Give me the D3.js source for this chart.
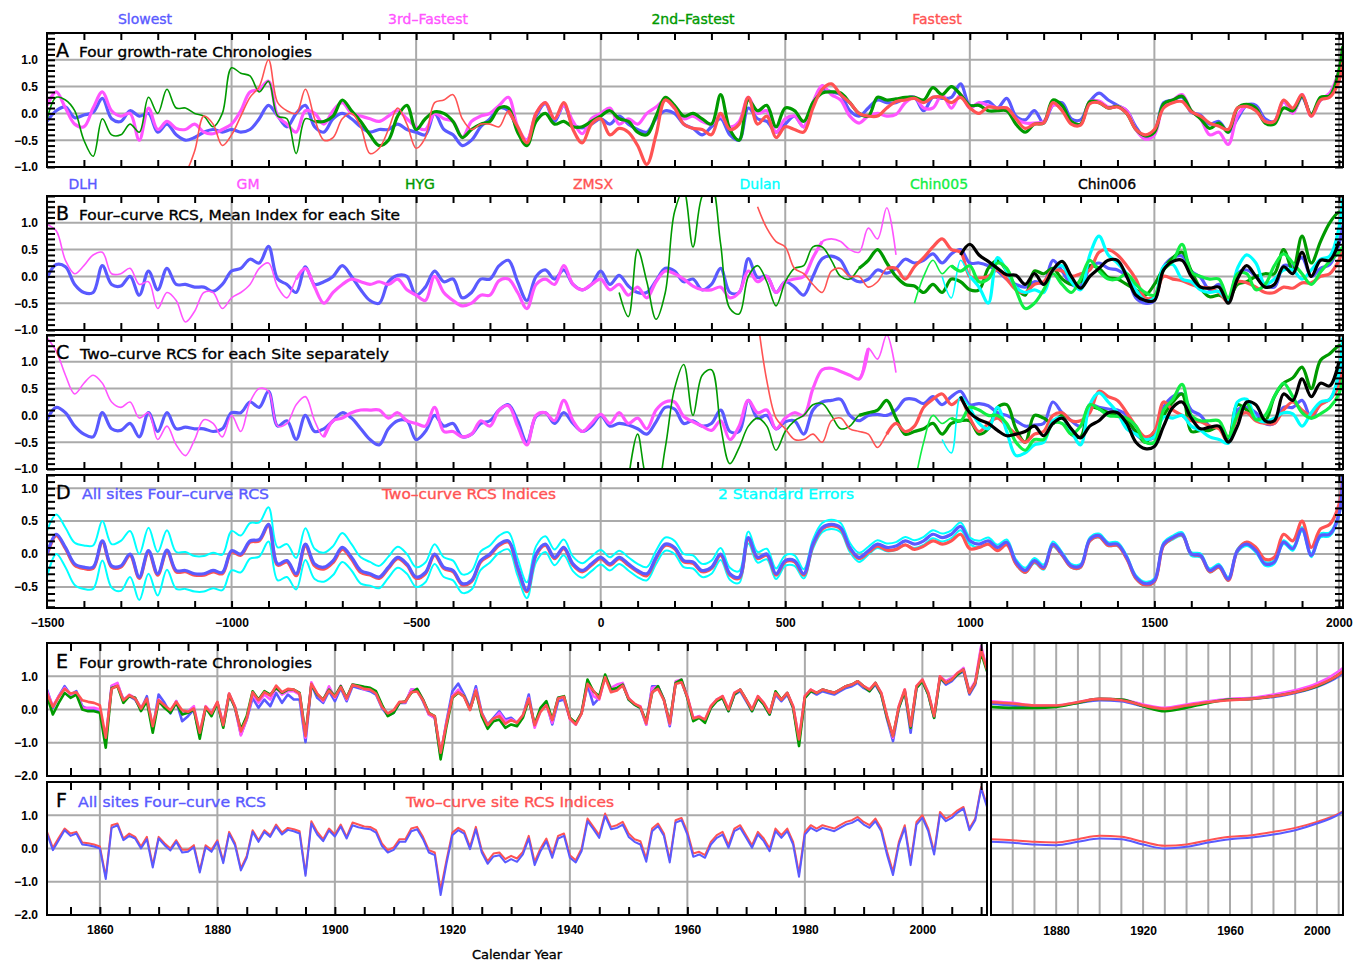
<!DOCTYPE html>
<html>
<head>
<meta charset="utf-8">
<script src="https://cdn.jsdelivr.net/npm/d3@7"></script>
<style>
  body { margin: 0; background: #fff; }
  text { font-family: "DejaVu Sans", sans-serif; }
  .lbl { stroke-width: 0.35px; }
  .tk text { font-family: "Liberation Sans", sans-serif; font-weight: bold; font-size: 12px; fill: #000; }
  .tk line { stroke: #000; stroke-width: 2; }
  .tk path { display: none; }
</style>
</head>
<body>
<script>
// ---- time grid for panels A-D (25 yr steps, last point 2010) ----
var gridYears = d3.range(-1500, 2001, 25).concat([2010]);

// ---- Panel A: four growth-rate chronologies ----
var aSlow = [-0.15,0.05,0.12,-0.08,-0.03,0.02,0.28,-0.1,-0.15,0.05,
  -0.05,0.0,-0.35,-0.2,-0.4,-0.5,-0.45,-0.35,-0.3,-0.35,
  -0.3,-0.35,-0.3,-0.1,0.15,-0.05,-0.25,0.0,0.15,-0.25,
  -0.35,-0.1,0.0,-0.1,-0.25,-0.35,-0.3,-0.3,-0.2,-0.3,
  -0.35,-0.4,0.0,-0.3,-0.4,-0.6,-0.5,-0.25,-0.1,0.1,
  0.05,-0.3,-0.5,-0.05,0.18,-0.15,0.15,-0.2,-0.27,-0.2,
  -0.1,-0.2,-0.05,-0.2,-0.3,-0.35,-0.1,0.05,0.0,-0.2,
  -0.28,-0.4,-0.25,-0.1,-0.4,-0.5,0.1,-0.1,-0.15,-0.35,
  -0.2,-0.05,-0.25,0.2,0.45,0.4,0.35,0.05,-0.05,0.1,
  0.25,0.2,0.2,0.28,0.3,0.05,0.3,0.28,0.3,0.55,
  0.15,0.17,0.22,0.1,0.28,-0.05,-0.12,0.05,-0.18,0.15,
  0.2,-0.1,-0.12,0.22,0.38,0.25,0.15,0.05,-0.25,-0.45,
  -0.35,0.2,0.25,0.3,0.02,-0.03,-0.2,-0.15,-0.35,-0.1,
  0.15,0.15,-0.1,-0.15,0.22,0.03,0.3,-0.02,0.25,0.35,
  0.7,1.0];
var aThird = [0.15,0.4,0.1,-0.2,-0.25,0.1,0.4,0.05,-0.05,0.0,
  -0.5,0.1,-0.3,-0.15,-0.28,-0.3,-0.2,-0.35,-0.38,-0.3,
  -0.2,0.05,0.4,0.45,0.6,-0.05,-0.2,-0.35,0.05,0.0,
  -0.2,0.05,0.2,0.0,-0.05,-0.1,-0.15,-0.05,0.05,-0.1,
  -0.25,-0.3,0.0,-0.1,-0.15,-0.45,-0.15,-0.05,0.0,0.15,
  0.3,-0.25,-0.5,0.0,0.2,-0.1,0.15,-0.15,-0.38,-0.1,
  0.0,0.1,-0.2,-0.1,-0.2,0.0,0.12,0.25,0.1,-0.1,
  -0.05,-0.15,-0.2,-0.05,-0.25,-0.15,0.3,0.0,0.05,-0.35,
  -0.1,-0.05,-0.25,0.2,0.52,0.35,0.25,-0.05,-0.18,-0.05,
  0.0,-0.05,-0.02,0.2,0.3,0.1,0.1,0.35,0.1,0.35,
  0.1,0.2,0.15,0.1,0.1,-0.1,-0.18,-0.18,-0.15,0.15,
  0.1,-0.15,-0.2,0.22,0.23,0.12,0.13,0.05,-0.3,-0.48,
  -0.4,0.15,0.25,0.35,0.05,-0.1,-0.4,-0.35,-0.58,-0.05,
  0.15,0.1,-0.15,-0.15,0.22,0.0,0.35,-0.05,0.25,0.38,
  0.8,1.2];
var aSecond = [-0.12,0.3,0.25,0.05,-0.5,-0.8,-0.1,-0.4,-0.4,-0.2,
  -0.35,0.3,0.0,0.45,0.1,0.1,0.0,-0.05,-0.25,0.0,
  0.85,0.75,0.7,0.4,0.6,-0.05,-0.1,-0.75,-0.1,-0.15,
  -0.15,-0.05,0.25,0.05,-0.15,-0.4,-0.6,-0.5,-0.05,0.15,
  -0.3,-0.1,0.03,0.0,-0.15,-0.45,-0.3,-0.2,-0.15,0.1,
  0.1,-0.35,-0.6,-0.15,0.0,-0.2,-0.15,-0.25,-0.25,-0.15,
  -0.05,0.05,-0.1,-0.15,-0.35,-0.4,-0.05,0.3,0.15,-0.05,
  0.0,-0.1,-0.2,0.35,-0.3,-0.5,0.25,0.05,0.15,-0.25,
  0.1,0.05,-0.15,0.2,0.38,0.4,0.38,0.2,0.0,-0.05,
  0.3,0.25,0.27,0.3,0.3,0.25,0.48,0.35,0.5,0.35,
  0.15,0.15,0.05,0.05,0.05,-0.2,-0.35,-0.2,-0.18,0.25,
  0.15,-0.15,-0.2,0.22,0.2,0.1,0.13,0.0,-0.3,-0.42,
  -0.35,0.18,0.25,0.32,0.05,-0.1,-0.28,-0.18,-0.35,0.1,
  0.17,0.1,-0.18,-0.2,0.1,0.05,0.32,-0.02,0.3,0.33,
  0.8,1.25];
var aFast = [-1.2,-1.1,-0.7,-0.05,-0.2,-0.6,   // from -1150
  -0.4,-0.05,0.3,0.5,1.0,0.2,0.05,0.0,0.45,-0.1,
  -0.5,-0.45,-0.1,0.0,-0.25,-0.75,-0.65,-0.3,0.1,-0.2,
  -0.65,-0.45,0.2,0.25,0.35,-0.1,-0.3,-0.2,-0.2,-0.25,
  0.05,-0.25,-0.55,0.0,0.2,-0.1,0.2,-0.3,-0.55,-0.2,
  -0.1,-0.4,-0.28,-0.35,-0.6,-0.95,-0.4,0.25,0.1,-0.2,
  -0.28,-0.3,-0.4,0.0,-0.3,-0.2,0.3,-0.2,-0.05,-0.45,
  -0.25,-0.3,-0.35,0.1,0.45,0.55,0.35,0.2,0.0,-0.05,
  -0.05,0.1,0.22,0.25,0.28,0.2,0.3,0.3,0.2,0.3,
  0.1,0.0,0.12,0.1,0.1,-0.1,-0.28,-0.2,-0.18,0.2,
  0.05,-0.2,-0.22,0.18,0.2,0.1,0.12,0.0,-0.3,-0.4,
  -0.3,0.1,0.2,0.22,0.03,-0.05,-0.18,-0.24,-0.3,0.1,
  0.13,0.05,-0.15,-0.15,0.25,0.1,0.35,-0.05,0.25,0.3,
  0.6,0.95];

// ---- Panel B: four-curve RCS, mean index for each site ----
var bDLH = [-0.03,0.22,0.18,-0.15,-0.3,-0.3,0.2,-0.15,-0.18,0.0,
  -0.35,0.1,-0.25,0.15,-0.15,-0.15,-0.2,-0.2,-0.28,-0.15,
  0.1,0.15,0.32,0.25,0.56,-0.05,-0.15,-0.3,0.18,-0.15,
  -0.1,0.0,0.2,0.0,-0.25,-0.45,-0.5,-0.1,0.02,0.0,
  -0.35,-0.2,0.1,-0.1,-0.05,-0.4,-0.3,-0.05,-0.05,0.2,
  0.3,-0.1,-0.45,0.0,0.12,-0.05,0.12,-0.15,-0.25,-0.15,
  0.1,-0.15,0.02,-0.18,-0.3,-0.3,-0.08,0.15,0.1,-0.1,
  -0.05,-0.25,-0.15,0.15,-0.3,-0.3,0.33,-0.02,0.0,-0.3,
  -0.1,-0.2,-0.35,0.0,0.33,0.38,0.3,0.0,-0.1,-0.05,
  0.12,0.06,0.15,0.32,0.25,0.3,0.42,0.25,0.42,0.5,
  0.25,0.25,0.2,0.1,-0.05,-0.15,-0.2,-0.1,-0.13,0.3,
  0.1,-0.15,-0.18,0.15,0.25,0.15,0.12,0.0,-0.4,-0.5,
  -0.45,0.18,0.35,0.38,0.1,-0.02,-0.25,-0.15,-0.48,0.05,
  0.12,0.0,-0.15,-0.2,0.2,0.2,0.35,0.0,0.15,0.22,
  0.6,0.95];
var bGM = [0.97,0.85,0.3,0.05,0.2,0.4,0.45,0.05,0.05,0.15,
  -0.15,-0.1,-0.6,-0.3,-0.45,-0.85,-0.65,-0.3,-0.3,-0.6,
  -0.4,-0.3,-0.15,0.15,0.25,-0.2,-0.4,-0.05,0.15,-0.2,
  -0.5,-0.3,-0.15,-0.05,-0.1,-0.15,-0.1,-0.15,-0.05,-0.25,
  -0.35,-0.45,0.0,-0.3,-0.45,-0.55,-0.5,-0.35,-0.35,-0.08,
  -0.05,-0.3,-0.6,-0.15,-0.05,-0.15,0.2,-0.15,-0.25,-0.15,
  -0.05,-0.25,-0.15,-0.35,-0.2,-0.4,-0.1,0.1,0.05,-0.05,
  -0.18,-0.25,-0.25,-0.2,-0.4,-0.3,0.1,-0.1,0.0,-0.3,
  -0.1,-0.05,0.0,0.35,0.65,0.7,0.65,0.5,0.45,0.9,
  0.7,1.28,0.4];
var bHYG = [-0.3,-0.75,0.5,-0.1,-0.8,-0.3,1.2,1.6,   // from 50
  0.55,1.5,1.7,0.6,-0.6,-0.7,0.0,0.2,-0.1,-0.55,
  -0.1,0.15,0.2,0.55,0.55,0.3,0.0,-0.05,0.15,0.3,
  0.5,0.25,0.0,-0.15,-0.18,-0.3,-0.15,-0.3,-0.05,-0.1,
  -0.25,-0.25,0.15,0.3,0.1,-0.2,-0.35,0.1,0.05,0.15,
  -0.05,-0.15,-0.1,0.2,0.15,-0.02,-0.05,-0.15,-0.25,-0.35,
  -0.15,0.15,0.35,0.45,0.1,-0.22,-0.38,-0.35,-0.42,-0.15,
  -0.1,0.0,0.05,0.05,0.5,0.12,0.75,0.25,0.65,1.0,
  1.2,1.2];
var bZMSX = [1.3,0.9,0.65,   // from 425
  0.55,0.15,0.05,-0.15,-0.3,0.1,0.15,0.0,0.0,-0.2,
  -0.1,0.15,0.15,-0.05,0.18,0.35,0.55,0.7,0.5,0.45,
  0.0,-0.03,0.0,0.12,-0.05,-0.25,-0.3,-0.15,-0.1,0.12,
  0.1,0.0,0.05,0.12,0.45,0.5,0.4,0.2,-0.05,-0.4,
  -0.38,0.0,-0.05,-0.08,-0.15,-0.2,-0.22,-0.3,-0.48,-0.1,
  -0.12,-0.2,-0.3,-0.3,-0.2,-0.22,-0.12,-0.12,0.0,0.05,
  0.3,0.5];
var bDulan = [0.0,-0.4,0.3,   // from 925
  0.0,-0.2,-0.5,0.35,0.1,-0.2,-0.3,-0.25,-0.3,0.12,
  0.2,-0.1,-0.25,0.4,0.75,0.4,0.25,0.05,-0.25,-0.45,
  -0.4,0.18,0.22,-0.05,-0.1,-0.25,-0.3,-0.28,-0.45,0.15,
  0.4,0.25,-0.15,-0.05,0.12,0.12,-0.05,0.12,0.32,0.38,
  0.9,1.45];
var bChin005 = [-0.5,0.0,0.3,0.05,0.2,0.1,   // from 850
  0.2,-0.1,-0.05,0.25,0.15,-0.25,-0.6,-0.5,-0.25,0.05,
  -0.15,-0.3,-0.05,0.3,0.1,-0.05,-0.05,0.05,-0.15,-0.3,
  -0.35,0.12,0.28,0.6,0.08,0.0,-0.05,-0.05,-0.4,0.05,
  0.05,-0.25,-0.15,0.2,0.42,0.25,0.05,-0.15,0.08,0.28,
  0.45,0.55];
var bChin006 = [0.4,   // from 975
  0.6,0.4,0.28,0.15,0.03,0.02,-0.15,0.05,-0.15,0.12,
  0.28,0.0,-0.22,0.0,0.15,0.3,0.3,0.0,-0.35,-0.45,
  -0.45,0.12,0.28,0.3,0.0,-0.2,-0.22,-0.2,-0.5,-0.05,
  0.2,0.0,-0.2,-0.15,0.18,0.05,0.45,0.0,0.3,0.3,
  0.65];

// ---- Panel C: two-curve RCS for each site separately ----
var cDLH = [-0.08,0.15,0.05,-0.2,-0.35,-0.4,0.05,-0.25,-0.28,-0.15,
  -0.4,0.05,-0.3,0.05,-0.25,-0.22,-0.25,-0.25,-0.3,-0.25,
  0.05,0.05,0.25,0.15,0.45,-0.2,-0.1,-0.45,0.0,-0.3,
  -0.25,-0.1,0.05,-0.05,-0.25,-0.45,-0.55,-0.25,-0.1,-0.1,
  -0.45,-0.3,0.0,-0.2,-0.15,-0.4,-0.35,-0.15,-0.1,0.1,
  0.2,-0.1,-0.5,-0.02,0.05,-0.15,0.05,-0.15,-0.3,-0.2,
  0.0,-0.2,-0.15,-0.18,-0.25,-0.35,-0.12,0.15,0.12,-0.15,
  -0.1,-0.2,-0.15,0.1,-0.3,-0.3,0.28,-0.05,0.0,-0.25,
  -0.12,-0.1,-0.35,0.1,0.25,0.28,0.3,0.0,-0.1,0.0,
  0.02,0.0,0.1,0.3,0.3,0.22,0.35,0.2,0.35,0.45,
  0.2,0.22,0.18,0.05,0.0,-0.1,-0.2,-0.18,-0.15,0.25,
  0.05,-0.1,-0.2,0.2,0.15,0.12,0.1,0.0,-0.35,-0.45,
  -0.4,0.15,0.35,0.4,0.1,0.0,-0.2,-0.22,-0.45,0.1,
  0.15,0.05,-0.15,-0.15,0.15,0.15,0.28,-0.05,0.22,0.3,
  0.65,1.0];
var cGM = [1.45,1.2,0.75,0.4,0.6,0.75,0.6,0.25,0.15,0.25,
  -0.05,0.05,-0.45,-0.2,-0.55,-0.75,-0.45,-0.08,-0.15,-0.4,
  0.0,-0.3,0.25,0.5,0.45,-0.2,-0.15,0.2,0.35,-0.1,
  -0.4,-0.1,-0.05,0.05,0.1,0.1,0.1,-0.05,0.05,-0.1,
  -0.15,-0.2,0.15,-0.3,-0.3,-0.4,-0.35,-0.1,-0.2,0.1,
  0.18,-0.2,-0.55,0.0,0.05,-0.1,0.28,-0.1,-0.3,-0.15,
  0.02,-0.15,0.05,-0.15,-0.05,-0.25,0.1,0.25,0.25,-0.02,
  -0.12,-0.2,-0.28,-0.1,-0.45,-0.2,0.28,0.05,0.1,-0.25,
  -0.05,0.05,0.0,0.5,0.85,0.88,0.82,0.75,0.68,1.25,
  1.05,1.5,0.8];
var cHYG = [-1.2,-0.35,-1.2,-1.4,-0.6,0.5,0.95,   // from 75
  0.0,0.75,0.85,-0.2,-0.9,-0.6,-0.2,-0.05,-0.2,-0.65,
  -0.3,-0.1,0.0,0.2,0.22,0.0,-0.25,-0.2,0.0,0.05,
  0.1,0.28,-0.05,-0.35,-0.3,-0.25,-0.15,-0.35,-0.15,-0.1,
  -0.1,-0.35,-0.25,0.15,0.2,-0.25,-0.5,0.0,-0.05,-0.15,
  0.0,-0.35,-0.4,0.15,0.12,0.05,0.0,-0.1,-0.3,-0.5,
  -0.3,0.0,0.25,0.4,-0.3,-0.28,-0.28,-0.22,-0.45,0.2,
  0.1,-0.05,-0.1,0.35,0.6,0.7,0.9,0.5,1.03,1.15,
  1.3,1.3];
var cZMSX = [1.8,0.65,-0.05,   // from 425
  -0.25,-0.45,-0.45,-0.35,-0.5,-0.1,-0.05,-0.25,-0.3,-0.35,
  -0.6,-0.35,-0.15,-0.3,-0.2,0.15,0.3,0.4,0.2,0.3,
  -0.05,-0.3,-0.15,-0.05,-0.2,-0.35,-0.5,-0.35,-0.3,0.0,
  0.05,-0.1,-0.1,0.05,0.45,0.35,0.28,0.05,-0.2,-0.4,
  -0.3,0.25,0.1,0.0,-0.1,-0.12,-0.2,-0.25,-0.5,-0.05,
  0.05,-0.1,-0.15,-0.15,0.1,0.25,0.1,0.0,0.2,0.3,
  0.55,0.85];
var cDulan = [-0.45,-0.7,0.35,   // from 925
  0.15,-0.15,-0.25,0.15,-0.3,-0.75,-0.7,-0.55,-0.5,-0.1,
  -0.05,-0.3,-0.55,0.2,0.42,0.25,0.05,-0.25,-0.35,-0.45,
  -0.4,-0.03,-0.05,0.0,-0.2,-0.28,-0.4,-0.45,-0.52,0.25,
  0.3,-0.05,-0.12,-0.05,0.05,0.03,-0.2,0.05,0.25,0.3,
  0.8,1.45];
var cChin005 = [-1.3,-0.5,0.0,-0.15,-0.05,-0.1,   // from 850
  0.15,0.1,0.0,0.0,-0.15,-0.5,-0.65,-0.45,-0.45,-0.15,
  -0.15,-0.35,-0.2,0.2,0.12,0.0,-0.02,-0.05,-0.2,-0.5,
  -0.5,0.1,0.3,0.58,0.0,-0.1,-0.1,-0.1,-0.4,0.0,
  0.22,-0.08,0.0,0.35,0.6,0.35,0.05,-0.05,0.03,0.15,
  0.4,0.7];
var cChin006 = [0.35,   // from 975
  0.05,-0.08,-0.15,-0.28,-0.38,-0.35,-0.3,-0.2,-0.38,-0.15,
  -0.05,-0.25,-0.42,-0.2,-0.1,0.05,0.05,-0.15,-0.5,-0.62,
  -0.58,-0.2,0.15,0.25,-0.05,-0.25,-0.22,-0.2,-0.5,-0.2,
  0.25,0.2,-0.1,-0.1,0.4,0.28,0.68,0.35,0.6,0.55,
  1.0];

// ---- Panel D: all sites ----
var dFour = [0.0,0.3,0.1,-0.15,-0.2,-0.2,0.2,-0.18,-0.18,0.0,
  -0.35,0.05,-0.3,0.06,-0.25,-0.25,-0.3,-0.3,-0.25,-0.28,
  0.05,0.0,0.2,0.22,0.45,-0.15,-0.1,-0.3,0.15,-0.15,
  -0.2,-0.1,0.1,-0.05,-0.25,-0.3,-0.35,-0.2,-0.05,-0.15,
  -0.35,-0.28,0.0,-0.2,-0.25,-0.45,-0.4,-0.1,0.0,0.15,
  0.2,-0.2,-0.55,0.0,0.15,-0.05,0.1,-0.15,-0.25,-0.15,
  -0.05,-0.15,-0.05,-0.15,-0.25,-0.3,-0.05,0.15,0.1,-0.1,
  -0.12,-0.25,-0.2,0.0,-0.3,-0.35,0.25,-0.05,0.0,-0.3,
  -0.1,-0.1,-0.3,0.15,0.4,0.45,0.4,0.1,-0.05,0.05,
  0.15,0.1,0.12,0.2,0.15,0.2,0.3,0.25,0.3,0.42,
  0.2,0.15,0.2,0.1,0.18,-0.12,-0.25,-0.1,-0.2,0.15,
  0.0,-0.18,-0.18,0.22,0.28,0.15,0.15,-0.05,-0.35,-0.45,
  -0.4,0.15,0.25,0.3,0.0,-0.02,-0.25,-0.18,-0.38,0.05,
  0.15,0.05,-0.15,-0.12,0.18,0.08,0.38,-0.02,0.28,0.3,
  0.6,1.2];
var dTwo = [-0.02,0.28,0.08,-0.17,-0.22,-0.22,0.18,-0.2,-0.2,-0.02,
  -0.37,0.03,-0.32,0.04,-0.27,-0.27,-0.32,-0.32,-0.27,-0.3,
  0.03,-0.02,0.18,0.2,0.43,-0.17,-0.12,-0.33,0.12,-0.18,
  -0.23,-0.13,0.07,-0.08,-0.28,-0.32,-0.37,-0.22,-0.07,-0.17,
  -0.37,-0.3,-0.02,-0.22,-0.27,-0.47,-0.42,-0.12,-0.02,0.13,
  0.18,-0.22,-0.57,-0.02,0.13,-0.07,0.08,-0.17,-0.27,-0.17,
  -0.07,-0.17,-0.07,-0.17,-0.27,-0.33,-0.07,0.13,0.08,-0.12,
  -0.14,-0.27,-0.22,-0.02,-0.32,-0.37,0.23,-0.07,-0.02,-0.32,
  -0.12,-0.12,-0.32,0.13,0.38,0.43,0.38,0.08,-0.07,0.02,
  0.12,0.06,0.07,0.14,0.07,0.12,0.2,0.15,0.2,0.3,
  0.08,0.1,0.15,0.05,0.14,-0.15,-0.28,-0.12,-0.22,0.13,
  -0.02,-0.2,-0.2,0.2,0.26,0.13,0.13,-0.07,-0.37,-0.47,
  -0.42,0.13,0.24,0.29,0.0,-0.03,-0.27,-0.2,-0.4,0.05,
  0.18,0.1,-0.08,-0.05,0.3,0.2,0.5,0.1,0.38,0.45,
  0.75,1.15];
// half width of the 2 standard error band
var dSE2 = [0.35,0.3,0.3,0.32,0.33,0.33,0.3,0.33,0.38,0.35,
  0.35,0.35,0.33,0.3,0.28,0.28,0.27,0.27,0.27,0.27,
  0.3,0.28,0.27,0.26,0.26,0.25,0.25,0.24,0.24,0.23,
  0.22,0.22,0.22,0.2,0.2,0.18,0.17,0.16,0.16,0.15,
  0.15,0.15,0.15,0.15,0.15,0.14,0.14,0.14,0.13,0.13,
  0.13,0.13,0.12,0.12,0.12,0.12,0.12,0.11,0.11,0.11,
  0.11,0.1,0.1,0.1,0.1,0.1,0.1,0.1,0.1,0.1,
  0.1,0.1,0.1,0.09,0.09,0.09,0.09,0.08,0.08,0.08,
  0.08,0.08,0.07,0.07,0.07,0.07,0.07,0.07,0.07,0.06,
  0.06,0.06,0.06,0.06,0.06,0.06,0.06,0.06,0.06,0.06,
  0.05,0.05,0.05,0.04,0.04,0.04,0.04,0.04,0.04,0.04,
  0.03,0.03,0.03,0.03,0.03,0.03,0.03,0.03,0.03,0.03,
  0.03,0.03,0.03,0.03,0.03,0.03,0.03,0.03,0.03,0.03,
  0.03,0.03,0.03,0.03,0.03,0.03,0.03,0.03,0.03,0.03,
  0.04,0.06];

// ---- Panels E/F: annual values 1851-2011 ----
var annStart = 1851;
var eSlow = [0.6,0.05,0.4,0.7,0.45,0.55,0.1,0.0,0.0,-0.02,
  -0.95,0.7,0.75,0.3,0.4,0.3,0.0,0.4,-0.6,0.45,
  0.2,-0.12,0.25,-0.35,-0.2,0.0,-0.8,0.05,-0.15,0.2,
  -0.5,0.45,0.05,-0.75,-0.3,0.35,0.05,0.3,0.1,0.5,
  0.2,0.45,0.3,0.3,-0.98,0.75,0.35,0.2,0.55,0.25,
  0.65,0.25,0.7,0.65,0.6,0.55,0.45,0.05,-0.18,-0.1,
  0.2,0.2,0.6,0.58,0.25,-0.15,-0.25,-1.4,-0.35,0.55,
  0.78,0.45,0.05,0.7,-0.1,-0.45,-0.25,-0.05,-0.3,-0.25,
  -0.4,-0.2,0.45,-0.5,0.0,0.2,-0.45,0.25,0.3,-0.25,
  -0.45,-0.1,0.75,0.15,0.35,1.0,0.6,0.6,0.75,0.3,
  0.15,0.05,-0.45,0.7,0.7,0.3,-0.5,0.8,0.85,0.35,
  -0.3,-0.2,-0.35,0.05,0.3,0.35,-0.05,0.45,0.55,0.25,
  -0.05,0.35,0.15,-0.15,0.45,0.25,0.45,0.05,-0.95,0.35,
  0.55,0.45,0.55,0.5,0.45,0.55,0.65,0.7,0.8,0.65,
  0.55,0.75,0.45,-0.3,-0.95,0.05,0.55,-0.7,0.65,0.85,
  0.45,-0.25,0.95,0.75,0.85,1.05,1.15,0.45,0.75,1.85,1.2];
var eThird = [0.55,0.1,0.4,0.65,0.45,0.5,0.05,0.05,0.05,0.0,
  -0.9,0.72,0.8,0.25,0.45,0.35,0.05,0.3,-0.55,0.3,
  0.1,-0.05,0.25,-0.15,-0.05,0.1,-0.75,0.1,-0.1,0.22,
  -0.45,0.48,0.08,-0.78,-0.28,0.45,0.2,0.45,0.3,0.65,
  0.45,0.55,0.55,0.45,-0.85,0.82,0.45,0.25,0.7,0.35,
  0.72,0.3,0.75,0.7,0.6,0.6,0.5,0.1,-0.15,-0.05,
  0.22,0.22,0.6,0.6,0.3,-0.15,-0.25,-1.35,-0.4,0.4,
  0.6,0.4,0.0,0.6,-0.15,-0.5,-0.3,-0.1,-0.35,-0.3,
  -0.38,-0.2,0.35,-0.55,-0.05,0.15,-0.4,0.35,0.35,-0.3,
  -0.45,-0.1,0.85,0.4,0.3,1.0,0.65,0.75,0.8,0.35,
  0.15,0.1,-0.45,0.65,0.7,0.3,-0.45,0.85,0.9,0.4,
  -0.25,-0.2,-0.32,0.1,0.3,0.4,0.0,0.5,0.6,0.3,
  0.0,0.4,0.2,-0.1,0.5,0.3,0.5,0.1,-0.9,0.4,
  0.6,0.5,0.6,0.55,0.5,0.6,0.7,0.75,0.85,0.7,
  0.6,0.8,0.5,-0.25,-0.85,0.1,0.6,-0.55,0.7,0.9,
  0.5,-0.2,1.0,0.85,0.95,1.1,1.25,0.55,0.85,1.9,1.2];
var eSecond = [0.4,-0.15,0.2,0.5,0.35,0.45,0.0,-0.05,-0.05,-0.1,
  -1.15,0.65,0.7,0.2,0.4,0.35,-0.05,0.25,-0.7,0.25,
  0.05,-0.1,0.2,-0.15,-0.1,0.0,-0.88,0.05,-0.2,0.2,
  -0.55,0.45,0.05,-0.6,-0.2,0.55,0.3,0.55,0.45,0.65,
  0.5,0.6,0.6,0.5,-0.75,0.75,0.45,0.3,0.6,0.4,
  0.7,0.35,0.75,0.72,0.68,0.65,0.55,0.15,-0.2,-0.1,
  0.2,0.25,0.5,0.62,0.3,-0.1,-0.2,-1.5,-0.5,0.35,
  0.5,0.4,0.0,0.55,-0.2,-0.58,-0.35,-0.3,-0.55,-0.45,
  -0.5,-0.25,0.3,-0.45,0.05,0.25,-0.3,0.35,0.4,-0.25,
  -0.4,-0.1,0.9,0.55,0.4,1.05,0.6,0.65,0.75,0.3,
  0.15,0.05,-0.35,0.5,0.7,0.3,-0.4,0.8,0.9,0.35,
  -0.35,-0.25,-0.4,0.05,0.25,0.35,-0.05,0.45,0.6,0.3,
  -0.05,0.35,0.15,-0.15,0.55,0.3,0.5,0.05,-1.1,0.35,
  0.55,0.5,0.6,0.55,0.5,0.6,0.7,0.75,0.85,0.7,
  0.55,0.8,0.45,-0.25,-0.8,0.05,0.55,-0.55,0.65,0.85,
  0.45,-0.25,0.95,0.8,0.9,1.05,1.2,0.5,0.8,1.7,1.15];
var eFast = [0.48,0.08,0.38,0.62,0.48,0.52,0.28,0.23,0.2,0.13,
  -0.85,0.62,0.72,0.28,0.43,0.33,0.03,0.33,-0.5,0.28,
  0.13,-0.02,0.23,-0.02,-0.07,0.03,-0.7,0.08,-0.12,0.23,
  -0.47,0.48,0.08,-0.66,-0.27,0.52,0.28,0.52,0.42,0.72,
  0.52,0.62,0.6,0.48,-0.8,0.77,0.48,0.28,0.57,0.38,
  0.67,0.33,0.74,0.69,0.62,0.6,0.48,0.08,-0.12,-0.02,
  0.23,0.23,0.52,0.54,0.28,-0.12,-0.2,-1.3,-0.42,0.38,
  0.52,0.38,-0.02,0.57,-0.12,-0.47,-0.27,-0.2,-0.43,-0.32,
  -0.4,-0.17,0.33,-0.47,-0.07,0.13,-0.32,0.33,0.38,-0.27,
  -0.45,-0.12,0.77,0.57,0.33,0.97,0.52,0.57,0.72,0.33,
  0.18,0.08,-0.42,0.52,0.62,0.28,-0.42,0.77,0.82,0.38,
  -0.27,-0.22,-0.3,0.1,0.3,0.4,0.0,0.5,0.6,0.3,
  0.0,0.4,0.2,-0.1,0.5,0.3,0.5,0.1,-0.9,0.4,
  0.6,0.5,0.6,0.55,0.5,0.6,0.7,0.75,0.85,0.7,
  0.6,0.8,0.5,-0.2,-0.8,0.1,0.6,-0.5,0.7,0.9,
  0.5,-0.2,1.0,0.8,0.9,1.1,1.2,0.5,0.8,1.8,1.2];
var fFour = [0.45,-0.05,0.25,0.55,0.38,0.45,0.12,0.1,0.06,0.0,
  -0.92,0.62,0.7,0.25,0.38,0.3,0.0,0.28,-0.57,0.3,
  0.1,-0.06,0.2,-0.12,-0.1,0.04,-0.72,0.04,-0.1,0.2,
  -0.44,0.44,0.1,-0.66,-0.28,0.5,0.2,0.5,0.35,0.66,
  0.42,0.56,0.52,0.45,-0.82,0.75,0.42,0.22,0.54,0.36,
  0.66,0.3,0.7,0.64,0.6,0.58,0.48,0.08,-0.12,-0.04,
  0.2,0.2,0.52,0.58,0.28,-0.12,-0.2,-1.4,-0.45,0.4,
  0.55,0.45,-0.02,0.58,-0.12,-0.46,-0.24,-0.2,-0.42,-0.32,
  -0.4,-0.18,0.3,-0.5,-0.08,0.22,-0.28,0.3,0.38,-0.28,
  -0.42,-0.08,0.82,0.58,0.32,0.98,0.58,0.62,0.72,0.35,
  0.2,0.12,-0.4,0.52,0.68,0.38,-0.42,0.78,0.85,0.42,
  -0.25,-0.18,-0.28,0.12,0.32,0.42,0.02,0.52,0.62,0.32,
  0.02,0.42,0.22,-0.08,0.52,0.32,0.52,0.12,-0.85,0.42,
  0.62,0.52,0.62,0.57,0.52,0.62,0.72,0.77,0.87,0.72,
  0.62,0.82,0.52,-0.2,-0.8,0.12,0.62,-0.5,0.72,0.92,
  0.52,-0.18,1.02,0.82,0.92,1.08,1.2,0.55,0.85,1.8,1.25];
var fTwo = [0.5,0.02,0.32,0.6,0.45,0.5,0.18,0.16,0.12,0.06,
  -0.85,0.7,0.75,0.3,0.45,0.35,0.06,0.35,-0.5,0.35,
  0.16,0.0,0.25,-0.04,-0.04,0.1,-0.66,0.1,-0.04,0.25,
  -0.38,0.5,0.16,-0.6,-0.22,0.55,0.25,0.55,0.4,0.72,
  0.48,0.62,0.58,0.52,-0.76,0.82,0.5,0.28,0.6,0.42,
  0.72,0.35,0.78,0.72,0.66,0.65,0.55,0.15,-0.05,0.03,
  0.28,0.28,0.6,0.65,0.35,-0.05,-0.12,-1.25,-0.35,0.48,
  0.62,0.52,0.05,0.65,-0.05,-0.38,-0.15,-0.12,-0.32,-0.22,
  -0.3,-0.1,0.38,-0.4,0.0,0.3,-0.2,0.38,0.45,-0.2,
  -0.35,0.0,0.9,0.65,0.4,1.05,0.65,0.7,0.8,0.45,
  0.28,0.22,-0.3,0.6,0.75,0.45,-0.35,0.85,0.92,0.5,
  -0.15,-0.1,-0.2,0.2,0.4,0.5,0.1,0.6,0.7,0.4,
  0.1,0.5,0.3,0.0,0.6,0.4,0.6,0.2,-0.75,0.5,
  0.7,0.6,0.7,0.65,0.6,0.7,0.8,0.85,0.95,0.8,
  0.7,0.9,0.6,-0.1,-0.7,0.2,0.7,-0.4,0.8,1.0,
  0.6,-0.1,1.1,0.9,1.0,1.15,1.25,0.6,0.9,1.85,1.3];

// ---- smoothed versions (right hand boxes) ----
var smYears = [1850,1860,1870,1880,1890,1900,1910,1920,1930,1940,1950,1960,1970,1980,1990,2000,2010,2012];
var smSlow   = [0.18,0.12,0.08,0.1,0.2,0.28,0.25,0.1,0.0,0.1,0.22,0.3,0.32,0.38,0.5,0.68,1.0,1.1];
var smThird  = [0.25,0.2,0.12,0.12,0.22,0.32,0.3,0.15,0.05,0.15,0.25,0.32,0.35,0.45,0.58,0.78,1.15,1.25];
var smSecond = [0.08,0.05,0.05,0.08,0.2,0.32,0.3,0.1,-0.05,0.05,0.2,0.3,0.32,0.4,0.52,0.7,1.05,1.15];
var smFast   = [0.22,0.18,0.12,0.12,0.22,0.32,0.28,0.12,0.02,0.12,0.22,0.28,0.32,0.4,0.52,0.72,1.05,1.15];
var smFour   = [0.2,0.17,0.12,0.1,0.2,0.3,0.28,0.12,0.0,0.05,0.18,0.28,0.33,0.42,0.55,0.75,1.02,1.1];
var smTwo    = [0.28,0.25,0.2,0.18,0.28,0.38,0.35,0.2,0.08,0.12,0.25,0.35,0.4,0.5,0.62,0.8,1.05,1.12];

var C = { blue: "#5a5aff", mag: "#ff55ff", green: "#009a00", red: "#ff5353",
          cyan: "#00ffff", lime: "#11ee44", black: "#000000", grid: "#aaaaaa" };

// helpers
function onGrid(start, vals) {
  var i0 = gridYears.indexOf(start);
  return vals.map(function(v, i) { return { x: gridYears[i0 + i], y: v }; });
}
function annual(vals) {
  return vals.map(function(v, i) { return { x: annStart + i, y: v }; });
}
function onYears(yrs, vals) {
  return vals.map(function(v, i) { return { x: yrs[i], y: v }; });
}
function label(g, x, y, size, color, txt, w) {
  var t = g.append("text").attr("class", "lbl").attr("x", x).attr("y", y).attr("font-size", size)
    .attr("fill", color).attr("stroke", color).text(txt);
  if (w) t.attr("textLength", w).attr("lengthAdjust", "spacingAndGlyphs");
  return t;
}

var svg = d3.select("body").append("svg").attr("width", 1368).attr("height", 964);
var clipN = 0;

var xLong = d3.scaleLinear().domain([-1500, 2011]).range([47, 1343]);

function drawLongPanel(p) {
  var y = d3.scaleLinear().domain(p.dom).range([p.bottom, p.top]);
  var g = svg.append("g");
  var cid = "clip" + (clipN++);
  g.append("clipPath").attr("id", cid).append("rect")
    .attr("x", 47).attr("y", p.top).attr("width", 1343 - 47).attr("height", p.bottom - p.top);

  // grid
  g.selectAll(".hg").data(p.grid).enter().append("line")
    .attr("x1", 47).attr("x2", 1343).attr("y1", function(d) { return y(d); }).attr("y2", function(d) { return y(d); })
    .attr("stroke", C.grid).attr("stroke-width", 2);
  g.selectAll(".vg").data([-1000, -500, 0, 500, 1000, 1500, 2000]).enter().append("line")
    .attr("y1", p.top).attr("y2", p.bottom).attr("x1", function(d) { return xLong(d); }).attr("x2", function(d) { return xLong(d); })
    .attr("stroke", C.grid).attr("stroke-width", 2);

  // lines
  var line = d3.line().x(function(d) { return xLong(d.x); }).y(function(d) { return y(d.y); })
    .curve(d3.curveCatmullRom.alpha(0.5));
  var lg = g.append("g").attr("clip-path", "url(#" + cid + ")");
  p.series.forEach(function(s) {
    if (s.band) {
      lg.append("path").datum(s.data).attr("fill", "none").attr("stroke", s.color).attr("stroke-width", 2).attr("d", line);
      return;
    }
    lg.append("path").datum(s.data).attr("fill", "none").attr("stroke", s.color)
      .attr("stroke-width", 1.6).attr("stroke-linejoin", "round").attr("d", line);
    if (s.thick) {
      var thickLine = line.defined(function(d) { return d.x >= s.thick[0] && d.x <= s.thick[1]; });
      lg.append("path").datum(s.data).attr("fill", "none").attr("stroke", s.color)
        .attr("stroke-width", 3.2).attr("stroke-linejoin", "round").attr("d", thickLine);
      line.defined(function() { return true; });
    }
  });

  // ticks: years along top and bottom, 0.1 steps on both sides
  var yrTicks = d3.range(-1400, 2001, 100);
  g.append("g").attr("class", "tk").attr("transform", "translate(0," + p.top + ")")
    .call(d3.axisBottom(xLong).tickValues(yrTicks).tickSize(7).tickFormat(""));
  g.append("g").attr("class", "tk").attr("transform", "translate(0," + p.bottom + ")")
    .call(d3.axisTop(xLong).tickValues(yrTicks).tickSize(7).tickFormat(""));
  var minor = d3.range(Math.ceil(p.dom[0] * 10), Math.floor(p.dom[1] * 10) + 1).map(function(k) { return k / 10; });
  g.append("g").attr("class", "tk").attr("transform", "translate(47,0)")
    .call(d3.axisRight(y).tickValues(minor).tickSize(8).tickFormat(""));
  g.append("g").attr("class", "tk").attr("transform", "translate(1343,0)")
    .call(d3.axisLeft(y).tickValues(minor).tickSize(8).tickFormat(""));
  g.append("g").attr("class", "tk").attr("transform", "translate(43,0)")
    .call(d3.axisLeft(y).tickValues(p.labels).tickSize(0).tickPadding(5).tickFormat(d3.format(".1f")));

  // frame
  g.append("rect").attr("x", 47).attr("y", p.top).attr("width", 1343 - 47).attr("height", p.bottom - p.top)
    .attr("fill", "none").attr("stroke", "#000").attr("stroke-width", 2);

  // title
  label(g, 56, p.top + 24, 19, "#000", p.letter).attr("stroke-width", 0.2);
  p.titles.forEach(function(tt) { label(g, tt.x, p.top + 24, 14, tt.color, tt.text, tt.w); });
  return y;
}

// ---- panel A ----
drawLongPanel({ letter: "A", top: 33, bottom: 167, dom: [-1, 1.5], grid: [-0.5, 0, 0.5, 1], labels: [-1, -0.5, 0, 0.5, 1],
  titles: [{ x: 79, w: 233, text: "Four growth-rate Chronologies", color: "#000" }],
  series: [
    { data: onGrid(-1500, aSlow), color: C.blue, thick: [-1500, 2010] },
    { data: onGrid(-1500, aThird), color: C.mag, thick: [-1500, 2010] },
    { data: onGrid(-1500, aSecond), color: C.green, thick: [-775, 2010] },
    { data: onGrid(-1150, aFast), color: C.red, thick: [-250, 2010] }
  ] });

// ---- panel B ----
drawLongPanel({ letter: "B", top: 196, bottom: 330, dom: [-1, 1.5], grid: [-0.5, 0, 0.5, 1], labels: [-1, -0.5, 0, 0.5, 1],
  titles: [{ x: 79, w: 321, text: "Four\u2013curve RCS, Mean Index for each Site", color: "#000" }],
  series: [
    { data: onGrid(-1500, bDLH), color: C.blue, thick: [-1500, 2010] },
    { data: onGrid(-1500, bGM), color: C.mag, thick: [-825, 600] },
    { data: onGrid(50, bHYG), color: C.green, thick: [700, 2010] },
    { data: onGrid(425, bZMSX), color: C.red, thick: [775, 2010] },
    { data: onGrid(925, bDulan), color: C.cyan, thick: [1000, 2010] },
    { data: onGrid(850, bChin005), color: C.lime, thick: [950, 2010] },
    { data: onGrid(975, bChin006), color: C.black, thick: [975, 2010] }
  ] });

// ---- panel C ----
drawLongPanel({ letter: "C", top: 335, bottom: 469, dom: [-1, 1.5], grid: [-0.5, 0, 0.5, 1], labels: [-1, -0.5, 0, 0.5, 1],
  titles: [{ x: 80, w: 309, text: "Two\u2013curve RCS for each Site separately", color: "#000" }],
  series: [
    { data: onGrid(-1500, cDLH), color: C.blue, thick: [-1500, 2010] },
    { data: onGrid(-1500, cGM), color: C.mag, thick: [-750, 725] },
    { data: onGrid(75, cHYG), color: C.green, thick: [700, 2010] },
    { data: onGrid(425, cZMSX), color: C.red, thick: [775, 2010] },
    { data: onGrid(925, cDulan), color: C.cyan, thick: [1000, 2010] },
    { data: onGrid(850, cChin005), color: C.lime, thick: [950, 2010] },
    { data: onGrid(975, cChin006), color: C.black, thick: [975, 2010] }
  ] });

// ---- panel D ----
var dUpper = dFour.map(function(v, i) { return { x: gridYears[i], y: v + dSE2[i] }; });
var dLower = dFour.map(function(v, i) { return { x: gridYears[i], y: v - dSE2[i] }; });
drawLongPanel({ letter: "D", top: 475, bottom: 608, dom: [-0.82, 1.2], grid: [-0.5, 0, 0.5, 1], labels: [-0.5, 0, 0.5, 1],
  titles: [{ x: 82, w: 187, text: "All sites Four\u2013curve RCS", color: C.blue },
           { x: 382, w: 174, text: "Two\u2013curve RCS Indices", color: C.red },
           { x: 718, w: 136, text: "2 Standard Errors", color: C.cyan }],
  series: [
    { data: dUpper, color: C.cyan, band: true },
    { data: dLower, color: C.cyan, band: true },
    { data: onGrid(-1500, dTwo), color: C.red, thick: [-1500, 2010] },
    { data: onGrid(-1500, dFour), color: C.blue, thick: [-1500, 2010] }
  ] });

// year labels under D
svg.append("g").attr("class", "tk").attr("transform", "translate(0,614)")
  .call(d3.axisBottom(xLong).tickValues([-1500, -1000, -500, 0, 500, 1000, 1500, 2000]).tickSize(0).tickPadding(4).tickFormat(d3.format("d")));

// legends above A and B
var legA = [{ t: "Slowest", x: 145, c: C.blue }, { t: "3rd\u2013Fastest", x: 428, c: C.mag },
            { t: "2nd\u2013Fastest", x: 693, c: C.green }, { t: "Fastest", x: 937, c: C.red }];
legA.forEach(function(d) { label(svg, d.x, 24, 14, d.c, d.t).attr("text-anchor", "middle"); });
var legB = [{ t: "DLH", x: 83, c: C.blue }, { t: "GM", x: 248, c: C.mag }, { t: "HYG", x: 420, c: C.green },
            { t: "ZMSX", x: 593, c: C.red }, { t: "Dulan", x: 760, c: C.cyan }, { t: "Chin005", x: 939, c: C.lime },
            { t: "Chin006", x: 1107, c: C.black }];
legB.forEach(function(d) { label(svg, d.x, 189, 14, d.c, d.t).attr("text-anchor", "middle"); });

// ---- panels E and F ----
var xAnn = d3.scaleLinear().domain([1851, 2011]).range([47, 987]);
var xSm = d3.scaleLinear().domain([1850, 2012]).range([991, 1343]);

function drawShortPanel(p) {
  var y = d3.scaleLinear().domain([-2, 2]).range([p.bottom, p.top]);
  var g = svg.append("g");
  [{ x: xAnn, l: 47, r: 987, vg: d3.range(1860, 2011, 20), series: p.series, curve: d3.curveLinear },
   { x: xSm, l: 991, r: 1343, vg: d3.range(1860, 2011, 10), series: p.smooth, curve: d3.curveMonotoneX }].forEach(function(b) {
    var cid = "clip" + (clipN++);
    g.append("clipPath").attr("id", cid).append("rect").attr("x", b.l).attr("y", p.top).attr("width", b.r - b.l).attr("height", p.bottom - p.top);
    g.selectAll(null).data([-1, 0, 1]).enter().append("line")
      .attr("x1", b.l).attr("x2", b.r).attr("y1", function(d) { return y(d); }).attr("y2", function(d) { return y(d); })
      .attr("stroke", C.grid).attr("stroke-width", 2);
    g.selectAll(null).data(b.vg).enter().append("line")
      .attr("y1", p.top).attr("y2", p.bottom).attr("x1", function(d) { return b.x(d); }).attr("x2", function(d) { return b.x(d); })
      .attr("stroke", C.grid).attr("stroke-width", 2);
    var line = d3.line().x(function(d) { return b.x(d.x); }).y(function(d) { return y(d.y); }).curve(b.curve);
    var lg = g.append("g").attr("clip-path", "url(#" + cid + ")");
    b.series.forEach(function(s) {
      lg.append("path").datum(s.data).attr("fill", "none").attr("stroke", s.color)
        .attr("stroke-width", s.w).attr("stroke-linejoin", "round").attr("d", line);
    });
    g.append("rect").attr("x", b.l).attr("y", p.top).attr("width", b.r - b.l).attr("height", p.bottom - p.top)
      .attr("fill", "none").attr("stroke", "#000").attr("stroke-width", 2);
  });
  var yt = d3.range(1855, 2011, 5);
  g.append("g").attr("class", "tk").attr("transform", "translate(0," + p.top + ")")
    .call(d3.axisBottom(xAnn).tickValues(yt).tickSize(8).tickFormat(""));
  g.append("g").attr("class", "tk").attr("transform", "translate(0," + p.bottom + ")")
    .call(d3.axisTop(xAnn).tickValues(yt).tickSize(8).tickFormat(""));
  g.append("g").attr("class", "tk").attr("transform", "translate(43,0)")
    .call(d3.axisLeft(y).tickValues([-2, -1, 0, 1]).tickSize(0).tickPadding(5).tickFormat(d3.format(".1f")));
  label(g, 56, p.top + 25, 19, "#000", p.letter).attr("stroke-width", 0.2);
  p.titles.forEach(function(tt) { label(g, tt.x, p.top + 25, 14, tt.color, tt.text, tt.w); });
}

drawShortPanel({ letter: "E", top: 643, bottom: 776,
  titles: [{ x: 79, w: 233, text: "Four growth-rate Chronologies", color: "#000" }],
  series: [
    { data: annual(eSlow), color: C.blue, w: 2.6 },
    { data: annual(eThird), color: C.mag, w: 2.6 },
    { data: annual(eSecond), color: C.green, w: 2.6 },
    { data: annual(eFast), color: C.red, w: 2.6 }
  ],
  smooth: [
    { data: onYears(smYears, smSlow), color: C.blue, w: 2.6 },
    { data: onYears(smYears, smThird), color: C.mag, w: 2.6 },
    { data: onYears(smYears, smSecond), color: C.green, w: 2.6 },
    { data: onYears(smYears, smFast), color: C.red, w: 2.6 }
  ] });

drawShortPanel({ letter: "F", top: 782, bottom: 915,
  titles: [{ x: 78, w: 188, text: "All sites Four\u2013curve RCS", color: C.blue },
           { x: 406, w: 208, text: "Two\u2013curve site RCS Indices", color: C.red }],
  series: [
    { data: annual(fTwo), color: C.red, w: 2 },
    { data: annual(fFour), color: C.blue, w: 2 }
  ],
  smooth: [
    { data: onYears(smYears, smTwo), color: C.red, w: 2 },
    { data: onYears(smYears, smFour), color: C.blue, w: 2 }
  ] });

// year labels under F and the smoothed box
svg.append("g").attr("class", "tk").attr("transform", "translate(0,921)")
  .call(d3.axisBottom(xAnn).tickValues(d3.range(1860, 2001, 20)).tickSize(0).tickPadding(4).tickFormat(d3.format("d")));
svg.append("g").attr("class", "tk").attr("transform", "translate(0,922)")
  .call(d3.axisBottom(xSm).tickValues([1880, 1920, 1960, 2000]).tickSize(0).tickPadding(4).tickFormat(d3.format("d")));

label(svg, 517, 959, 13, "#000", "Calendar Year").attr("text-anchor", "middle").attr("stroke-width", 0.25);
</script>
</body>
</html>
